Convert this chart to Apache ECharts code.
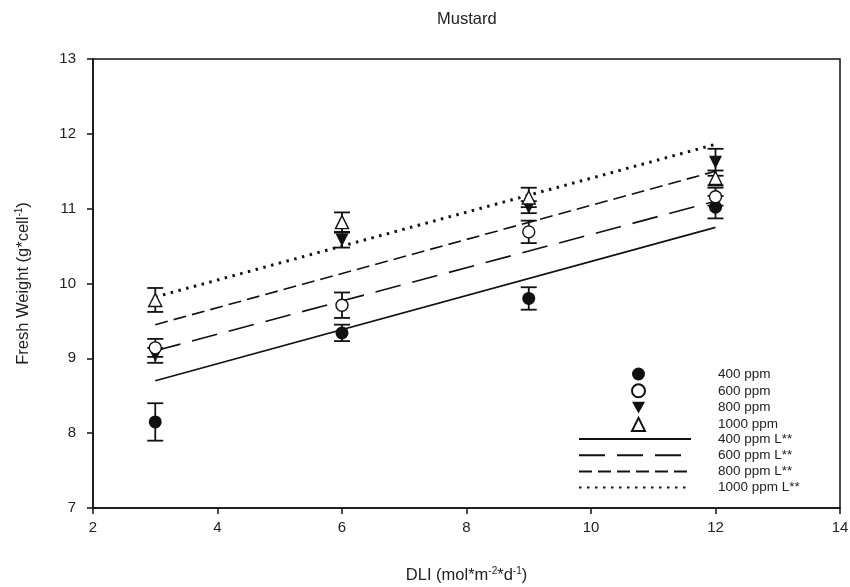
<!DOCTYPE html>
<html>
<head>
<meta charset="utf-8">
<script src="https://cdn.jsdelivr.net/npm/echarts@6/dist/echarts.min.js"></script>
<style>
  html, body { margin: 0; padding: 0; background: #fff; }
  #chart { width: 850px; height: 587px; }
</style>
</head>
<body>
<div id="chart"></div>
<script>
  // DLI levels
  var dli = [3, 6, 9, 12];

  // mean fresh weight + error per CO2 level
  var fw400 = [8.15, 9.34, 9.80, 11.02];
  var err400 = [0.25, 0.11, 0.15, 0.15];
  var fw600 = [9.14, 9.71, 10.69, 11.16];
  var err600 = [0.12, 0.17, 0.15, 0.12];
  var fw800 = [9.04, 10.58, 11.02, 11.62];
  var err800 = [0.10, 0.10, 0.08, 0.18];
  var fw1000 = [9.78, 10.82, 11.15, 11.41];
  var err1000 = [0.16, 0.13, 0.13, 0.10];

  // linear fits, ends
  var fitX = [3, 12];
  var fit400 = [8.70, 10.75];
  var fit600 = [9.10, 11.10];
  var fit800 = [9.45, 11.50];
  var fit1000 = [9.82, 11.86];

  var xTicks = [2, 4, 6, 8, 10, 12, 14];
  var yTicks = [7, 8, 9, 10, 11, 12, 13];

  var ink = '#111';
  var font = 'Liberation Sans, Arial, sans-serif';

  function pairs(xs, ys) {
    return xs.map(function (x, i) { return [x, ys[i]]; });
  }

  function errSeries(means, errs) {
    return {
      type: 'custom',
      z: 3,
      silent: true,
      data: dli.map(function (x, i) { return [x, means[i], errs[i]]; }),
      renderItem: function (params, api) {
        var x = api.value(0), y = api.value(1), e = api.value(2);
        var top = api.coord([x, y + e]);
        var bot = api.coord([x, y - e]);
        var w = 8;
        var st = { stroke: ink, lineWidth: 1.8 };
        return {
          type: 'group',
          children: [
            { type: 'line', shape: { x1: top[0], y1: top[1], x2: bot[0], y2: bot[1] }, style: st },
            { type: 'line', shape: { x1: top[0] - w, y1: top[1], x2: top[0] + w, y2: top[1] }, style: st },
            { type: 'line', shape: { x1: bot[0] - w, y1: bot[1], x2: bot[0] + w, y2: bot[1] }, style: st }
          ]
        };
      }
    };
  }

  function fitSeries(name, ys, dash, width) {
    return {
      name: name,
      type: 'line',
      symbol: 'none',
      z: 2,
      data: pairs(fitX, ys),
      itemStyle: { color: 'rgba(0,0,0,0)' },
      lineStyle: { color: ink, width: width, type: dash, cap: 'butt' }
    };
  }

  var legendText = { fontFamily: font, fontSize: 13.5, lineHeight: 14, color: '#222' };

  var chart = echarts.init(document.getElementById('chart'));
  chart.setOption({
    animation: false,
    title: {
      text: 'Mustard',
      left: 432,
      top: 6,
      textStyle: { fontFamily: font, fontSize: 16.5, fontWeight: 'normal', color: '#222' }
    },
    grid: {
      left: 93, right: 10, top: 59, bottom: 79,
      outerBoundsMode: 'none',
      show: true, borderColor: ink, borderWidth: 1.5, backgroundColor: 'transparent'
    },
    legend: [{
      // symbols
      orient: 'vertical',
      left: 631,
      top: 367,
      padding: 0,
      itemWidth: 13,
      itemHeight: 13,
      itemGap: 2.3,
      symbolKeepAspect: true,
      textStyle: Object.assign({ padding: [0, 0, 0, 68] }, legendText),
      data: ['400 ppm', '600 ppm',
             { name: '800 ppm', icon: 'path://M0,0L2,0L1,1.8Z' },
             '1000 ppm']
    }, {
      // fitted lines
      orient: 'vertical',
      left: 578,
      top: 432,
      padding: 0,
      itemWidth: 112,
      itemHeight: 14,
      itemGap: 2.2,
      textStyle: Object.assign({ padding: [0, 0, 0, 22] }, legendText),
      data: ['400 ppm L**', '600 ppm L**', '800 ppm L**', '1000 ppm L**']
    }],
    xAxis: {
      type: 'value',
      min: 2, max: 14, interval: 2,
      name: '{t|DLI (mol*m}{s|-2}{t|*d}{s|-1}{t|)}',
      nameLocation: 'middle',
      nameGap: 58,
      nameTextStyle: {
        rich: {
          t: { fontFamily: font, fontSize: 16.5, color: '#222' },
          s: { fontFamily: font, fontSize: 10, color: '#222', padding: [0, 0, 9, 0] }
        }
      },
      axisLine: { lineStyle: { color: ink, width: 1.5 } },
      axisTick: { length: 6, lineStyle: { color: ink, width: 1.5 } },
      axisLabel: { margin: 12, fontFamily: font, fontSize: 15, color: '#222',
        formatter: function (v) { return xTicks.indexOf(v) >= 0 ? String(v) : ''; } },
      splitLine: { show: false }
    },
    yAxis: {
      type: 'value',
      min: 7, max: 13, interval: 1,
      name: '{t|Fresh Weight (g*cell}{s|-1}{t|)}',
      nameLocation: 'middle',
      nameGap: 60,
      nameTextStyle: {
        rich: {
          t: { fontFamily: font, fontSize: 16.5, color: '#222' },
          s: { fontFamily: font, fontSize: 10, color: '#222', padding: [0, 0, 9, 0] }
        }
      },
      axisLine: { lineStyle: { color: ink, width: 1.5 } },
      axisTick: { length: 6, lineStyle: { color: ink, width: 1.5 } },
      axisLabel: { margin: 17, fontFamily: font, fontSize: 15, color: '#222',
        formatter: function (v) { return yTicks.indexOf(v) >= 0 ? String(v) : ''; } },
      splitLine: { show: false }
    },
    series: [
      fitSeries('400 ppm L**', fit400, 'solid', 1.6),
      fitSeries('600 ppm L**', fit600, [26, 12], 1.6),
      fitSeries('800 ppm L**', fit800, [13, 6], 1.6),
      fitSeries('1000 ppm L**', fit1000, [2.5, 5.5], 3),
      errSeries(fw400, err400),
      errSeries(fw800, err800),
      errSeries(fw600, err600),
      errSeries(fw1000, err1000),
      {
        name: '400 ppm', type: 'scatter', z: 4,
        symbol: 'circle', symbolSize: 13,
        itemStyle: { color: ink, opacity: 1 },
        data: pairs(dli, fw400)
      },
      {
        name: '800 ppm', type: 'scatter', z: 4,
        symbol: 'triangle', symbolRotate: 180, symbolSize: 13,
        itemStyle: { color: ink, opacity: 1 },
        data: pairs(dli, fw800)
      },
      {
        name: '600 ppm', type: 'scatter', z: 5,
        symbol: 'circle', symbolSize: 12,
        itemStyle: { color: '#fff', borderColor: ink, borderWidth: 1.4, opacity: 1 },
        data: pairs(dli, fw600)
      },
      {
        name: '1000 ppm', type: 'scatter', z: 5,
        symbol: 'triangle', symbolSize: 13,
        itemStyle: { color: '#fff', borderColor: ink, borderWidth: 1.4, opacity: 1 },
        data: pairs(dli, fw1000)
      }
    ]
  });
</script>
</body>
</html>
